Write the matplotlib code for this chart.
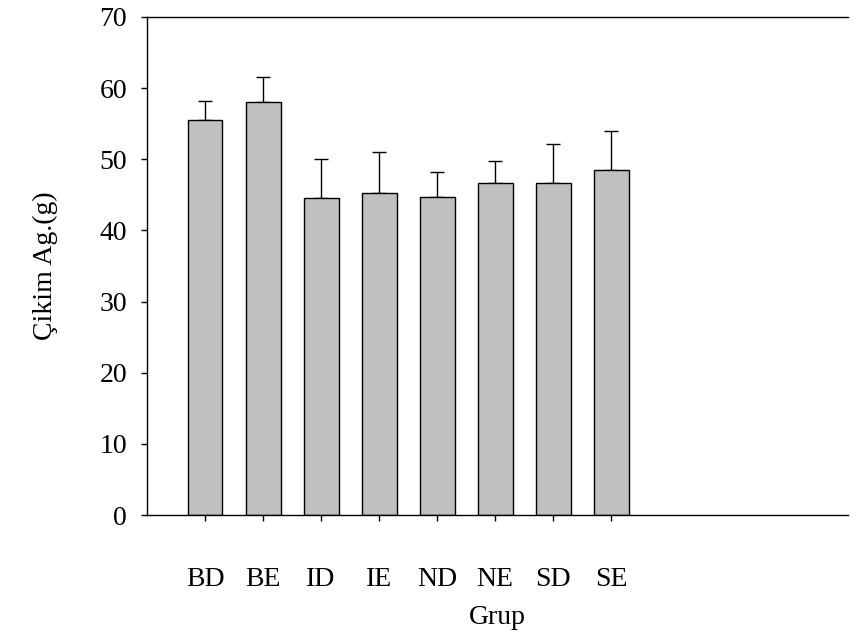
import numpy as np
import matplotlib.pyplot as plt

plt.rcParams['font.family'] = ['Liberation Serif', 'DejaVu Serif']

groups = ['BD', 'BE', 'ID', 'IE', 'ND', 'NE', 'SD', 'SE']
means = [55.5, 58.0, 44.6, 45.3, 44.7, 46.7, 46.6, 48.5]
errs = [2.7, 3.5, 5.4, 5.7, 3.5, 3.05, 5.6, 5.4]

fig = plt.figure(figsize=(8.6, 6.33), dpi=100)
ax = fig.add_axes([0.171, 0.1864, 0.815, 0.787])

x = np.arange(1, len(groups) + 1)
ax.bar(x, means, width=0.6, color='#c0c0c0', edgecolor='black', linewidth=1.0, zorder=2)
# upper error bars only
ax.errorbar(x, means, yerr=[np.zeros(len(errs)), errs], fmt='none', ecolor='black',
            elinewidth=1.0, capsize=5, capthick=1.0, zorder=1)

ax.set_xlim(0, 12.08)
ax.set_ylim(0, 70)
ax.set_xticks(x)
ax.set_xticklabels(groups)
ax.set_yticks(np.arange(0, 71, 10))

ax.spines['right'].set_visible(False)
for s in ['left', 'bottom', 'top']:
    ax.spines[s].set_linewidth(1.0)

ax.tick_params(axis='x', direction='out', length=4.5, width=1.0, pad=33, labelsize=20)
ax.tick_params(axis='y', direction='out', length=4.5, width=1.0, pad=10, labelsize=20)

ax.set_xlabel('Grup', fontsize=20, labelpad=9)
ax.set_ylabel('Çikim Ag.(g)', fontsize=20, labelpad=30)

fig.savefig('out.png', dpi=100)
